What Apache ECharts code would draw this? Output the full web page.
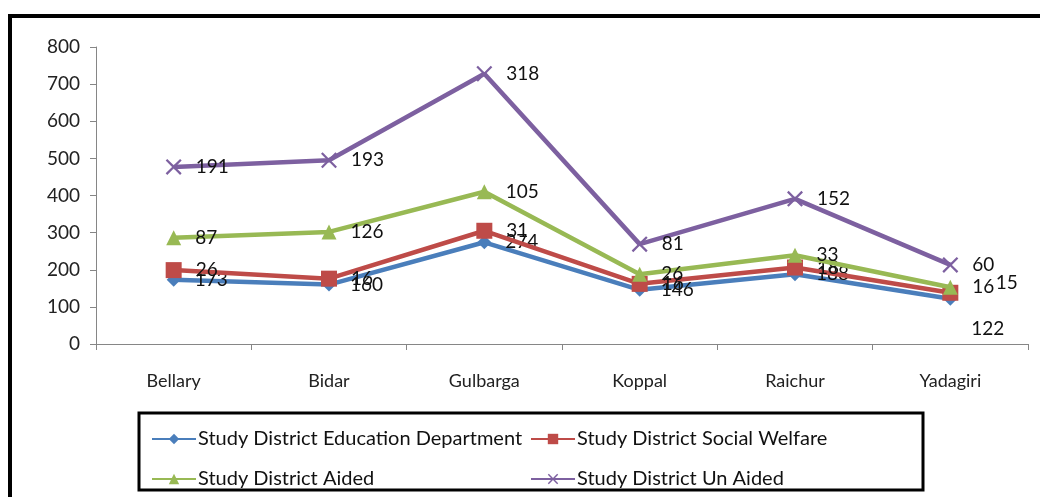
<!DOCTYPE html>
<html><head><meta charset="utf-8">
<script src="https://cdn.jsdelivr.net/npm/echarts@6/dist/echarts.min.js"></script>
<style>html,body{margin:0;padding:0;background:#fff}#c{width:1040px;height:497px}</style>
</head><body><div id="c"></div>
<script>
const categories = ['Bellary','Bidar','Gulbarga','Koppal','Raichur','Yadagiri'];
const education = [173,160,274,146,188,122];
const socialWelfare = [26,16,31,16,18,16];
const aided = [87,126,105,26,33,15];
const unAided = [191,193,318,81,152,60];
const yTicks = [0,100,200,300,400,500,600,700,800];
const names = ['Study District Education Department','Study District Social Welfare','Study District Aided','Study District Un Aided'];
const colors = ['#4A7EBB','#BE4B48','#98B954','#7D60A0'];
const xPath = 'path://M0,1L1,0L5,4L9,0L10,1L6,5L10,9L9,10L5,6L1,10L0,9L4,5Z';
const symbols = ['diamond','rect','triangle',xPath];
const sizes = [14,16,15,16];
const font = 'Lato, "Open Sans", sans-serif';
const seriesData = [education, socialWelfare, aided, unAided];
// per-series label offsets for the last category (Yadagiri), styling only
const lastOffsets = [[0,30],[0,-6],[24,-4],[0,0]];

const chart = echarts.init(document.getElementById('c'));
const legendPos = [[146,424],[525,424],[146,464],[525,464]];
chart.setOption({
  animation:false,
  backgroundColor:'#fff',
  grid:{left:96,right:12,top:47,bottom:153},
  xAxis:{type:'category',data:categories,boundaryGap:true,
    axisLine:{lineStyle:{color:'#868686'}},
    axisTick:{show:true,length:6,lineStyle:{color:'#868686'}},
    axisLabel:{color:'#222',fontFamily:font,fontSize:18,margin:28}},
  yAxis:{type:'value',min:yTicks[0],max:yTicks[yTicks.length-1],interval:100,
    splitLine:{show:false},
    axisLine:{show:true,lineStyle:{color:'#868686'}},
    axisTick:{show:true,length:6,lineStyle:{color:'#868686'}},
    axisLabel:{color:'#222',fontFamily:font,fontSize:19,margin:16}},
  legend: names.map((n,i)=>({data:[n],left:legendPos[i][0],top:legendPos[i][1],
    itemWidth:44,itemHeight:13,itemGap:4,
    textStyle:{fontFamily:font,fontSize:20,color:'#111',padding:[0,0,0,-3]}})),
  graphic:[
    {type:'rect',shape:{x:10,y:16,width:1040,height:500},style:{fill:'none',stroke:'#000',lineWidth:4},silent:true},
    {type:'rect',shape:{x:139,y:413,width:784,height:77},style:{fill:'none',stroke:'#000',lineWidth:3},silent:true}
  ],
  series: seriesData.map((d,i)=>({
    name:names[i],type:'line',stack:'total',
    data:d.map((v,j)=> j===d.length-1 ? {value:v,label:{offset:lastOffsets[i]}} : v),
    symbol:symbols[i],symbolSize:sizes[i],
    lineStyle:{width:4.5,color:colors[i]},
    itemStyle:{color:colors[i]},
    label:{show:true,position:'right',distance:14,fontFamily:font,fontSize:19,color:'#111'},
    z:2+i
  }))
});
</script></body></html>
